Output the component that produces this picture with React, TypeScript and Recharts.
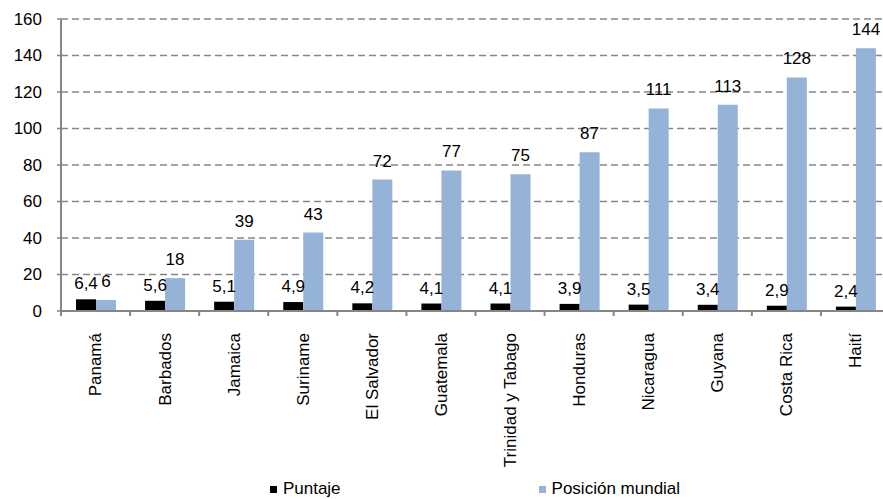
import { BarChart, Bar, XAxis, YAxis, CartesianGrid, Legend, LabelList } from 'recharts';

const countries = [
  'Panamá', 'Barbados', 'Jamaica', 'Suriname', 'El Salvador', 'Guatemala',
  'Trinidad y Tabago', 'Honduras', 'Nicaragua', 'Guyana', 'Costa Rica', 'Haití',
];
const puntaje = [6.4, 5.6, 5.1, 4.9, 4.2, 4.1, 4.1, 3.9, 3.5, 3.4, 2.9, 2.4];
const posicion = [6, 18, 39, 43, 72, 77, 75, 87, 111, 113, 128, 144];
const yTicks = [0, 20, 40, 60, 80, 100, 120, 140, 160];
const seriesNames = ['Puntaje', 'Posición mundial'];

const FONT = '"Liberation Sans", Arial, sans-serif';
const AXIS_GRAY = '#868686';

// chart layout
const WIDTH = 892;
const HEIGHT = 499;
const MARGIN = { top: 19, right: 2, left: 0, bottom: 0 };
const Y_AXIS_WIDTH = 61;
const X_AXIS_HEIGHT = 160;
const LEGEND_HEIGHT = 28;
const PLOT_BOTTOM = HEIGHT - MARGIN.bottom - LEGEND_HEIGHT - X_AXIS_HEIGHT;
const CAT_WIDTH = (WIDTH - MARGIN.left - MARGIN.right - Y_AXIS_WIDTH) / countries.length;

const chartData = countries.map((name, i) => ({
  name,
  puntaje: puntaje[i],
  posicion: posicion[i],
}));

const CountryTick = (props: any) => {
  const { x, payload, index } = props;
  const left = x - CAT_WIDTH / 2;
  return (
    <g>
      <line x1={left} y1={PLOT_BOTTOM} x2={left} y2={PLOT_BOTTOM + 5} stroke={AXIS_GRAY} strokeWidth={2} />
      {index === countries.length - 1 && (
        <line x1={x + CAT_WIDTH / 2} y1={PLOT_BOTTOM} x2={x + CAT_WIDTH / 2} y2={PLOT_BOTTOM + 5} stroke={AXIS_GRAY} strokeWidth={2} />
      )}
      <text
        transform={`translate(${x},${PLOT_BOTTOM + 22}) rotate(-90)`}
        textAnchor="end"
        dy="0.35em"
        fontSize={17}
        fontFamily={FONT}
        fill="#000"
      >
        {payload.value}
      </text>
    </g>
  );
};

const ValueTick = (props: any) => {
  const { x, y, payload } = props;
  return (
    <text x={x} y={y} dy="0.35em" textAnchor="end" fontSize={17} fontFamily={FONT} fill="#000">
      {payload.value}
    </text>
  );
};

const renderLegend = (props: any) => {
  const items = [...(props.payload || [])].sort(
    (a: any, b: any) => seriesNames.indexOf(a.value) - seriesNames.indexOf(b.value)
  );
  return (
    <div
      style={{
        display: 'flex',
        justifyContent: 'center',
        alignItems: 'center',
        height: 20,
        paddingTop: 8,
        paddingLeft: 60,
        fontFamily: FONT,
        fontSize: 17,
        color: '#000',
      }}
    >
      {items.map((entry: any, i: number) => (
        <span
          key={entry.value}
          style={{ display: 'flex', alignItems: 'center', marginRight: i === 0 ? 198 : 0 }}
        >
          <span style={{ width: 7, height: 7, background: entry.color, marginRight: 6, display: 'inline-block' }} />
          {entry.value}
        </span>
      ))}
    </div>
  );
};

export default function App() {
  return (
    <div style={{ position: 'absolute', left: 0, top: 0, width: 883, height: 499, overflow: 'hidden', background: '#fff' }}>
      <BarChart
        width={WIDTH}
        height={HEIGHT}
        data={chartData}
        margin={MARGIN}
        barCategoryGap={15}
        barGap={0}
      >
        <CartesianGrid vertical={false} stroke={AXIS_GRAY} strokeWidth={1.5} strokeDasharray="7 4" />
        <XAxis
          dataKey="name"
          height={X_AXIS_HEIGHT}
          interval={0}
          tickLine={false}
          axisLine={{ stroke: AXIS_GRAY, strokeWidth: 2 }}
          tick={<CountryTick />}
        />
        <YAxis
          width={Y_AXIS_WIDTH}
          domain={[0, 160]}
          ticks={yTicks}
          interval={0}
          tickSize={4}
          tickMargin={15}
          tickLine={{ stroke: AXIS_GRAY, strokeWidth: 1.5 }}
          axisLine={{ stroke: AXIS_GRAY, strokeWidth: 2 }}
          tick={<ValueTick />}
        />
        <Legend verticalAlign="bottom" content={renderLegend} />
        <Bar dataKey="puntaje" name={seriesNames[0]} fill="#000000" isAnimationActive={false}>
          <LabelList
            dataKey="puntaje"
            position="top"
            offset={10}
            formatter={(v: any) => String(v).replace('.', ',')}
            style={{ fill: '#000', fontSize: 17, fontFamily: FONT }}
          />
        </Bar>
        <Bar dataKey="posicion" name={seriesNames[1]} fill="#95B3D7" isAnimationActive={false}>
          <LabelList
            dataKey="posicion"
            position="top"
            offset={13}
            style={{ fill: '#000', fontSize: 17, fontFamily: FONT }}
          />
        </Bar>
      </BarChart>
    </div>
  );
}
